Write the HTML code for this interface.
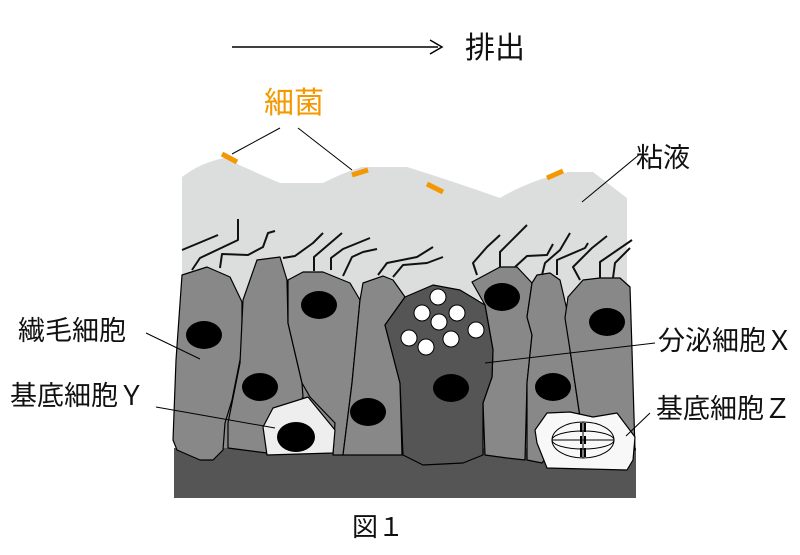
<!DOCTYPE html>
<html><head><meta charset="utf-8"><style>
body{margin:0;background:#fff;width:800px;height:555px;overflow:hidden}
svg{display:block}
text{font-family:"Liberation Sans","Noto Sans CJK JP",sans-serif;}
</style></head><body>
<svg width="800" height="555" viewBox="0 0 800 555" xmlns="http://www.w3.org/2000/svg">
<path d="M182,177 Q200,163 224,158 Q250,170 280,183 L323,183 Q342,173 362,167 L407,167 Q455,182 500,198 Q530,180 568,172 L593,172 L627,198 L627,300 L182,300 Z" fill="#dcdddd"/>
<rect x="182" y="305" width="448" height="150" fill="#888"/>
<rect x="174" y="448" width="462" height="50" fill="#555"/>
<g stroke="#000" stroke-width="1.2" stroke-linejoin="round">
<polygon fill="#888" points="182,275 207,267 230,277 242,302 242,350 232,400 225,423 223,450 213,460 200,460 177,450 173,440 176,360"/>
<polygon fill="#888" points="257,260 280,257 287,280 288,323 302,383 303,397 267,453 228,448 228,423 240,363 243,300"/>
<polygon fill="#888" points="288,280 303,272 323,272 350,283 360,300 352,383 343,455 333,455 335,423 310,397 302,383 288,323"/>
<polygon fill="#888" points="363,283 383,276 393,280 405,297 385,325 400,383 402,455 343,455 352,383 360,300"/>
<polygon fill="#888" points="472,282 500,267 517,267 532,283 527,317 532,335 527,383 525,460 507,458 485,455 483,403 492,377 493,350 485,305"/>
<polygon fill="#888" points="537,275 550,273 560,280 567,310 570,350 580,417 542,463 527,460 527,383 532,335 527,317 532,283"/>
<polygon fill="#888" points="565,318 568,297 583,280 600,278 620,278 630,287 632,350 635,450 600,455 580,417 570,350"/>
<polygon fill="#555" points="385,325 405,297 433,285 460,290 485,305 493,350 492,377 483,403 483,455 463,463 423,465 403,455 400,383"/>
<polygon fill="#eee" points="263,427 273,408 308,397 335,430 333,453 267,455"/>
<polygon fill="#f8f8f8" points="535,430 547,413 570,412 593,417 617,413 635,437 633,460 627,470 547,468 537,443"/>
</g>
<g fill="#000">
<ellipse cx="204" cy="335" rx="18" ry="14"/>
<ellipse cx="260" cy="387" rx="18" ry="14"/>
<ellipse cx="319" cy="305" rx="18" ry="14"/>
<ellipse cx="368" cy="412" rx="18" ry="14"/>
<ellipse cx="451" cy="388" rx="18" ry="14"/>
<ellipse cx="502" cy="297" rx="18" ry="14"/>
<ellipse cx="553" cy="387" rx="18" ry="14"/>
<ellipse cx="607" cy="322" rx="18" ry="14"/>
<ellipse cx="296" cy="437" rx="19" ry="15"/>
</g>
<g fill="#fff" stroke="#000" stroke-width="1">
<circle cx="438" cy="297" r="8"/><circle cx="422" cy="313" r="8"/><circle cx="457" cy="313" r="8"/>
<circle cx="439" cy="322" r="8"/><circle cx="476" cy="330" r="8"/><circle cx="409" cy="338" r="8"/>
<circle cx="451" cy="339" r="8"/><circle cx="426" cy="347" r="8"/>
</g>
<g stroke="#000" fill="none" stroke-width="1">
<ellipse cx="583" cy="440" rx="31" ry="18"/>
<ellipse cx="583" cy="440" rx="31" ry="9"/>
<line x1="552" y1="440" x2="614" y2="440"/>
<line x1="583" y1="422" x2="583" y2="458"/>
</g>
<g stroke="#000" stroke-width="2">
<line x1="581" y1="423" x2="581" y2="432"/><line x1="585" y1="423" x2="585" y2="432"/>
<line x1="581" y1="436" x2="581" y2="444"/><line x1="585" y1="436" x2="585" y2="444"/>
<line x1="581" y1="448" x2="581" y2="457"/><line x1="585" y1="448" x2="585" y2="457"/>
</g>
<g stroke="#111" stroke-width="2" fill="none" stroke-linejoin="round">
<polyline points="182,250 218,235"/>
<polyline points="192,270 200,258 238,240 238,219"/>
<polyline points="220,268 222,254 248,255 263,247 268,233 275,231"/>
<polyline points="283,258 295,256 313,243 323,233"/>
<polyline points="314,271 314,257 342,233"/>
<polyline points="331,270 331,258 343,249 370,238"/>
<polyline points="343,276 352,257 363,252 377,249"/>
<polyline points="378,275 387,263 417,257 433,247"/>
<polyline points="393,277 403,265 427,263 443,257"/>
<polyline points="477,275 473,263 487,247 500,235"/>
<polyline points="500,267 500,252 527,225"/>
<polyline points="515,267 527,256 547,255 553,244"/>
<polyline points="542,275 545,263 560,250 570,233"/>
<polyline points="557,275 557,260 585,248 588,243"/>
<polyline points="580,280 573,267 592,248 607,236"/>
<polyline points="600,278 600,262 632,240"/>
<polyline points="613,278 615,263 630,248"/>
</g>
<g stroke="#f39800" stroke-width="5">
<line x1="222" y1="154" x2="237" y2="162"/>
<line x1="352" y1="175" x2="368" y2="170"/>
<line x1="427" y1="184" x2="443" y2="192"/>
<line x1="547" y1="178" x2="563" y2="171"/>
</g>
<g stroke="#000" stroke-width="1">
<line x1="280" y1="128" x2="232" y2="154"/>
<line x1="298" y1="128" x2="352" y2="170"/>
<line x1="640" y1="154" x2="582" y2="202"/>
<line x1="146" y1="333" x2="200" y2="359"/>
<line x1="156" y1="407" x2="275" y2="428"/>
<line x1="655" y1="343" x2="485" y2="363"/>
<line x1="650" y1="413" x2="626" y2="436"/>
<line x1="232" y1="47" x2="438" y2="47" stroke-width="1.5"/>
<polyline points="430,40 442,47 430,54" fill="none" stroke-width="1.5"/>
</g>
<g font-size="27" fill="#111">
<text x="465" y="58" font-size="30">排出</text>
<text x="264" y="113" font-size="30" fill="#f39800">細菌</text>
<text x="636" y="167">粘液</text>
<text x="18" y="340">繊毛細胞</text>
<text x="10" y="405">基底細胞Ｙ</text>
<text x="658" y="350">分泌細胞Ｘ</text>
<text x="656" y="418">基底細胞Ｚ</text>
<text x="352" y="536" font-size="26">図１</text>
</g>
</svg>
</body></html>
